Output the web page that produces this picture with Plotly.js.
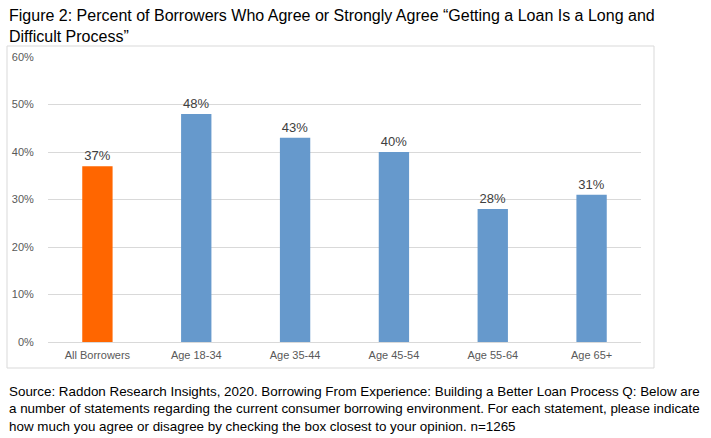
<!DOCTYPE html>
<html>
<head>
<meta charset="utf-8">
<script src="https://cdn.plot.ly/plotly-3.0.1.min.js"></script>
<style>
  html, body { margin: 0; padding: 0; background: #fff; }
  #chart { width: 711px; height: 438px; }
</style>
</head>
<body>
<div id="chart"></div>
<script>
var categories = ["All Borrowers", "Age 18-34", "Age 35-44", "Age 45-54", "Age 55-64", "Age 65+"];
var values = [0.37, 0.48, 0.43, 0.40, 0.28, 0.31];
var barColors = ["#FF6600", "#6699CC", "#6699CC", "#6699CC", "#6699CC", "#6699CC"];
var tickVals = [0, 0.1, 0.2, 0.3, 0.4, 0.5, 0.6];
var tickText = ["0%", "10%", "20%", "30%", "40%", "50%", "60%"];

var titleText = "Figure 2: Percent of Borrowers Who Agree or Strongly Agree \u201cGetting a Loan Is a Long and<br>Difficult Process\u201d";
var sourceText = "Source: Raddon Research Insights, 2020. Borrowing From Experience: Building a Better Loan Process Q: Below are<br>" +
    "a number of statements regarding the current consumer borrowing environment. For each statement, please indicate<br>" +
    "how much you agree or disagree by checking the box closest to your opinion. n=1265";

var trace = {
    type: 'bar',
    x: categories,
    y: values,
    marker: {color: barColors},
    text: values.map(function (v) { return Math.round(v * 100) + '%'; }),
    textposition: 'outside',
    cliponaxis: false,
    textfont: {family: 'Liberation Sans, Arial, sans-serif', size: 13, color: '#404040'},
    hoverinfo: 'none'
};

// plot area spans roughly x 48..641, y 57..342 px
var layout = {
    width: 711,
    height: 438,
    margin: {l: 48, r: 70, t: 57, b: 96},
    paper_bgcolor: '#ffffff',
    plot_bgcolor: '#ffffff',
    showlegend: false,
    bargap: 0.693,
    font: {family: 'Liberation Sans, Arial, sans-serif'},
    xaxis: {
        showgrid: false,
        showline: true,
        linecolor: '#D9D9D9',
        linewidth: 1,
        ticks: '',
        ticklabelstandoff: 3,
        tickfont: {size: 11, color: '#595959'},
        fixedrange: true
    },
    yaxis: {
        range: [0, 0.6],
        tickvals: tickVals,
        ticktext: tickText,
        showgrid: true,
        gridcolor: '#D9D9D9',
        gridwidth: 1,
        zeroline: false,
        showline: false,
        ticks: 'outside',
        ticklen: 11,
        tickcolor: 'rgba(0,0,0,0)',
        tickfont: {size: 11, color: '#595959'},
        fixedrange: true
    },
    shapes: [{
        type: 'rect',
        xref: 'paper', yref: 'paper',
        x0: (7 - 48) / 593, x1: (654 - 48) / 593,
        y0: (342 - 368) / 285, y1: (342 - 46) / 285,
        line: {color: '#D9D9D9', width: 1},
        fillcolor: 'rgba(0,0,0,0)',
        layer: 'below'
    }],
    annotations: [{
        text: titleText,
        xref: 'paper', yref: 'paper',
        x: -41 / 593, y: (342 - 5) / 285,
        xanchor: 'left', yanchor: 'top',
        align: 'left',
        showarrow: false,
        font: {size: 16, color: '#000000'}
    }, {
        text: sourceText,
        xref: 'paper', yref: 'paper',
        x: -41 / 593, y: (342 - 382) / 285,
        xanchor: 'left', yanchor: 'top',
        align: 'left',
        showarrow: false,
        font: {size: 13.4, color: '#000000'}
    }]
};

Plotly.newPlot('chart', [trace], layout, {displayModeBar: false, staticPlot: true});
</script>
</body>
</html>
